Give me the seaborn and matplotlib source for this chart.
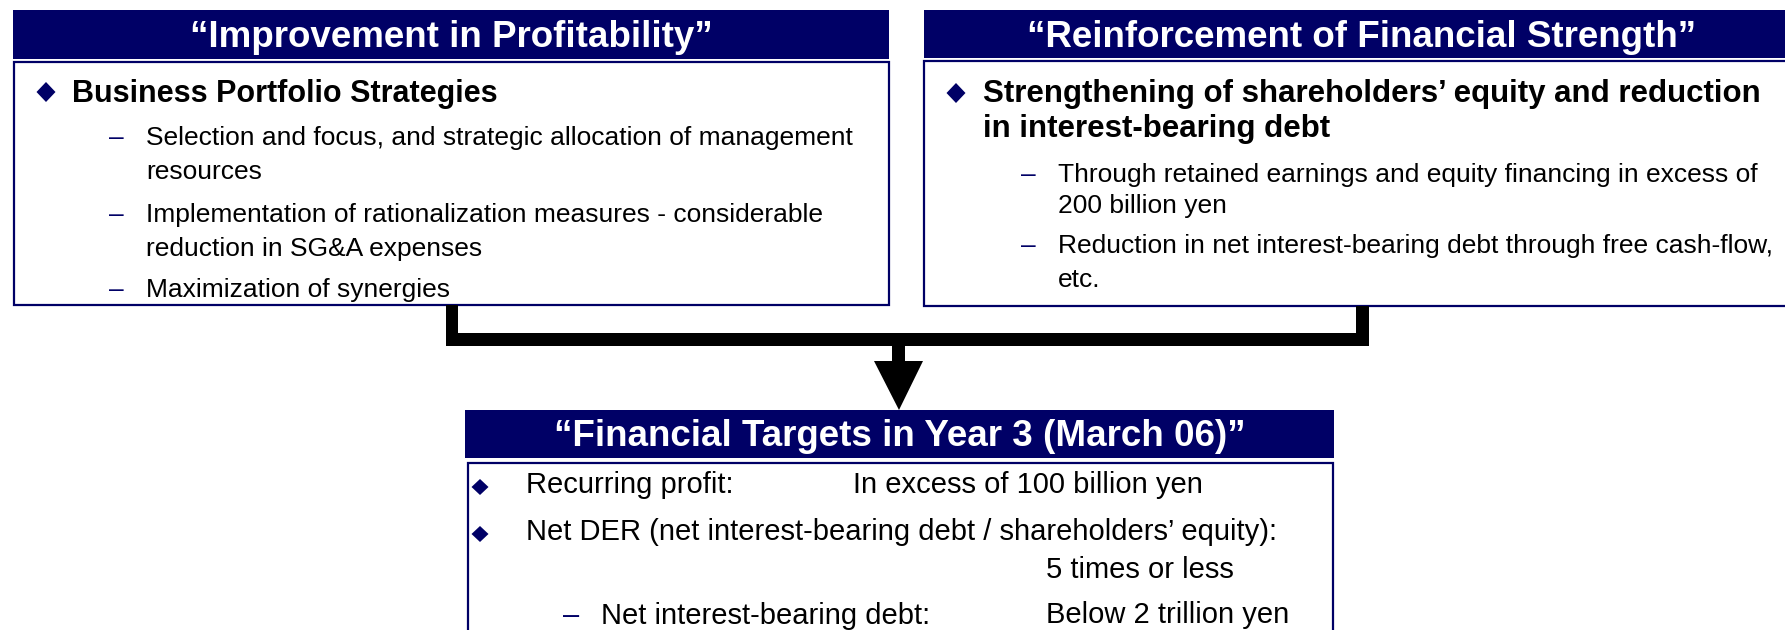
import numpy as np
import matplotlib
matplotlib.use("Agg")
import matplotlib.pyplot as plt
from matplotlib.patches import Rectangle, Polygon
import seaborn as sns

sns.set_style("white")
plt.rcParams['font.family'] = ['Liberation Sans', 'DejaVu Sans']
plt.rcParams['text.color'] = 'black'

# ---- texts of the three boxes ----
left_title = "\u201cImprovement in Profitability\u201d"
left_head = ["Business Portfolio Strategies"]
left_items = [
    ["Selection and focus, and strategic allocation of management", "resources"],
    ["Implementation of rationalization measures - considerable", "reduction in SG&A expenses"],
    ["Maximization of synergies"],
]

right_title = "\u201cReinforcement of Financial Strength\u201d"
right_head = ["Strengthening of shareholders\u2019 equity and reduction",
              "in interest-bearing debt"]
right_items = [
    ["Through retained earnings and equity financing in excess of", "200 billion yen"],
    ["Reduction in net interest-bearing debt through free cash-flow,", "etc."],
]

bottom_title = "\u201cFinancial Targets in Year 3 (March 06)\u201d"
target_labels = ["Recurring profit:",
                 "Net DER (net interest-bearing debt / shareholders\u2019 equity):",
                 "Net interest-bearing debt:"]
target_values = ["In excess of 100 billion yen", "5 times or less", "Below 2 trillion yen"]
target_kind = ["bullet", "bullet", "dash"]

navy = '#000066'
W, H = 1785, 630

fig = plt.figure(figsize=(W / 100, H / 100), dpi=100)
ax = fig.add_axes([0, 0, 1, 1])
ax.set_xlim(0, W)
ax.set_ylim(H, 0)
ax.axis('off')


def header(x0, x1, y0, y1, title, base):
    ax.add_patch(Rectangle((x0, y0), x1 - x0, y1 - y0, facecolor=navy, edgecolor='none'))
    ax.text((x0 + x1) / 2, base, title, color='white', fontsize=26.5,
            fontweight='bold', ha='center', va='baseline')


def body(x0, x1, y0, y1):
    ax.add_patch(Rectangle((x0, y0), x1 - x0, y1 - y0, facecolor='white',
                           edgecolor=navy, linewidth=1.6))


def diamond(cx, cy, hw, hh):
    ax.add_patch(Polygon([(cx - hw, cy), (cx, cy - hh), (cx + hw, cy), (cx, cy + hh)],
                         closed=True, facecolor=navy, edgecolor='none'))


def dash(cx, base, size=19):
    ax.text(cx, base, "\u2013", color=navy, fontsize=size, ha='center', va='baseline')


# ---- left box ----
header(13, 889, 10, 59, left_title, 47)
body(14, 889, 62, 305)
diamond(46, 92, 9.5, 10)
ax.text(72, 102, left_head[0], fontsize=22, fontweight='bold', va='baseline')
left_rows = [[145, 179], [222, 256], [297]]
for lines, ys in zip(left_items, left_rows):
    dash(116, ys[0])
    for t, y in zip(lines, ys):
        ax.text(146, y, t, fontsize=19, va='baseline')

# ---- right box ----
header(924, 1800, 10, 58, right_title, 47)
body(924, 1800, 61, 306)
diamond(956, 93, 9.5, 10)
for t, y in zip(right_head, [102, 137]):
    ax.text(983, y, t, fontsize=22.5, fontweight='bold', va='baseline')
right_rows = [[182, 213], [253, 287]]
for lines, ys in zip(right_items, right_rows):
    dash(1028, ys[0])
    for t, y in zip(lines, ys):
        ax.text(1058, y, t, fontsize=19, va='baseline')

# ---- connector and arrow ----
for (x0, x1, y0, y1) in [(446, 458, 305, 346), (446, 1369, 333, 346),
                         (1356, 1369, 306, 346), (892, 905, 345, 362)]:
    ax.add_patch(Rectangle((x0, y0), x1 - x0, y1 - y0, facecolor='black', edgecolor='none'))
ax.add_patch(Polygon([(874, 361), (923, 361), (899, 410)], closed=True,
                     facecolor='black', edgecolor='none'))

# ---- bottom box ----
header(465, 1334, 410, 458, bottom_title, 446)
body(468, 1333, 463, 660)
label_y = [493, 540, 624]
value_y = [493, 578, 623]
for lab, val, kind, ly, vy in zip(target_labels, target_values, target_kind, label_y, value_y):
    if kind == 'bullet':
        diamond(480, ly - 6, 8.5, 8)
        lx = 526
    else:
        dash(571, ly, 21)
        lx = 601
    ax.text(lx, ly, lab, fontsize=21, va='baseline')
    vx = 853 if kind == 'bullet' and vy == ly else 1046
    ax.text(vx, vy, val, fontsize=21, va='baseline')

fig.savefig("out.png", dpi=100, facecolor='white')
